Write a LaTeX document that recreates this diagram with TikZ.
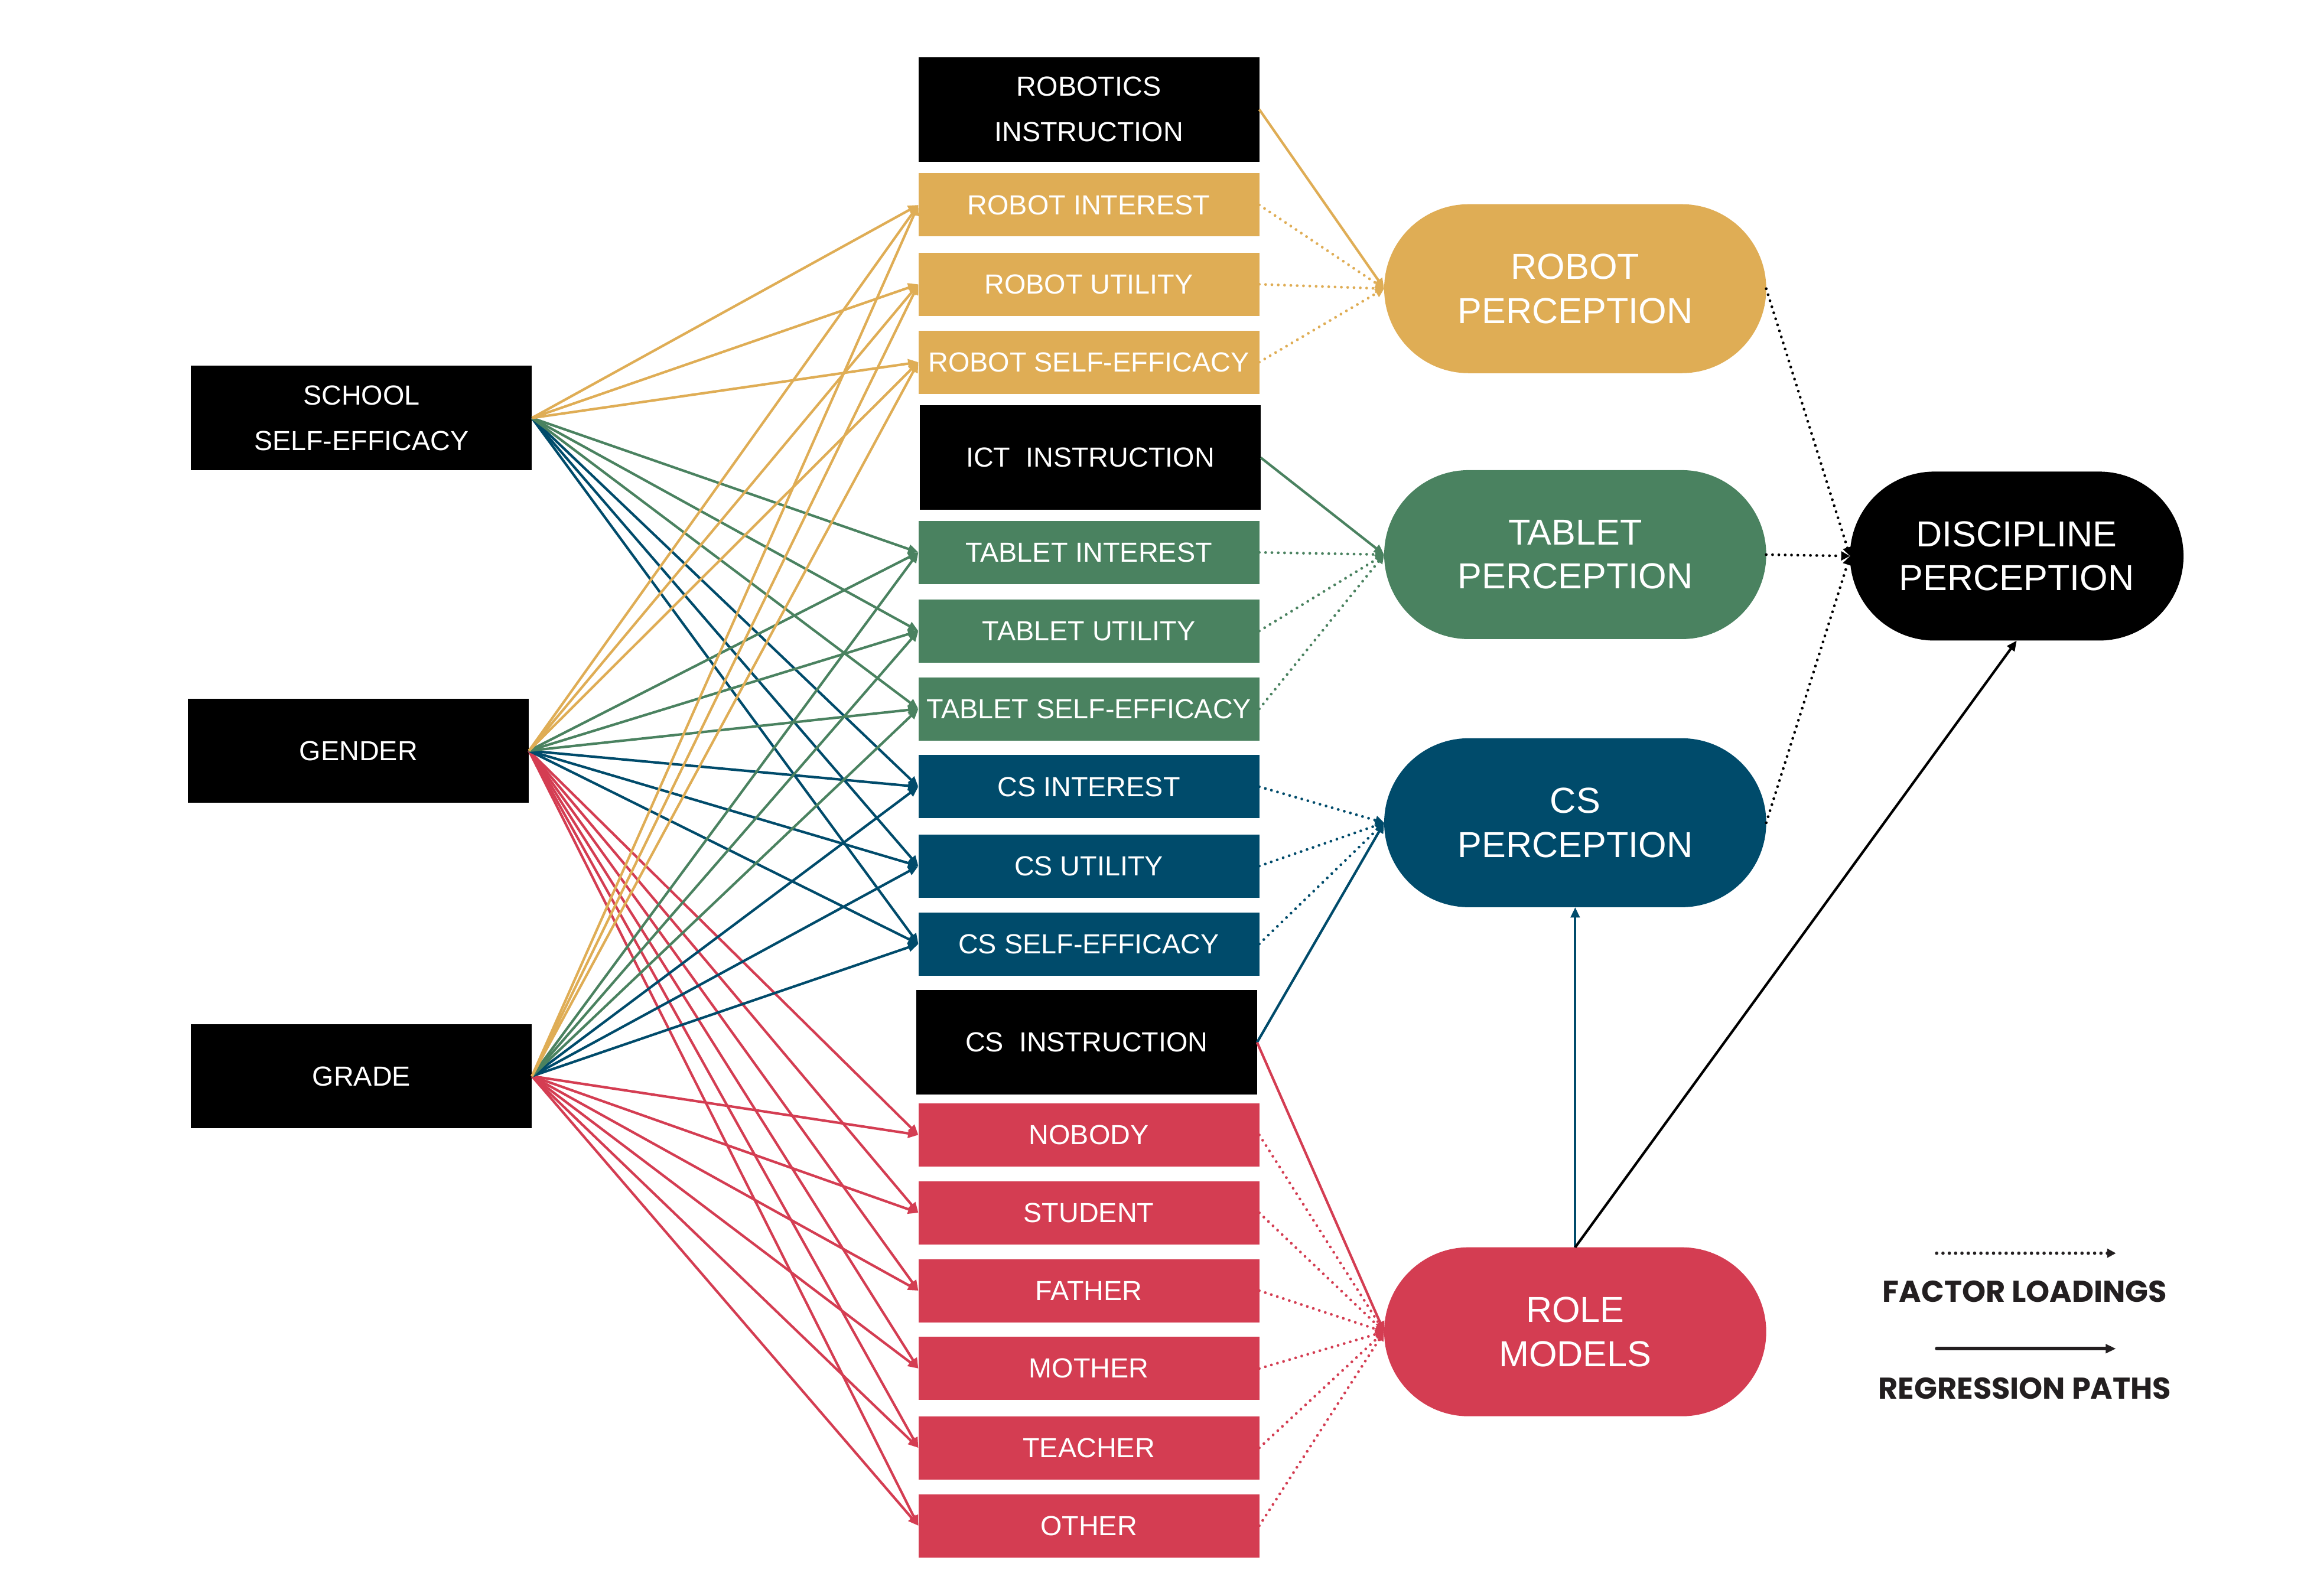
\documentclass[tikz,border=0pt]{standalone}
\usepackage{fontspec}
\setmainfont{Liberation Sans}
\newfontfamily\legendfont{Poppins}
\usetikzlibrary{arrows.meta,shapes.misc}
\definecolor{cyel}{RGB}{223,173,85}
\definecolor{cgrn}{RGB}{74,130,96}
\definecolor{cblu}{RGB}{0,75,107}
\definecolor{cred}{RGB}{212,61,82}
\definecolor{ink}{RGB}{35,31,32}
\tikzset{
  box/.style={rectangle, inner sep=0pt, outer sep=0pt, minimum width=232pt, minimum height=43pt,
    text=white, font=\fontsize{18.8}{31}\selectfont, align=center},
  ind/.style={box, fill=#1},
  inst/.style={box, fill=black, minimum height=71pt},
  lat/.style={rounded rectangle, inner sep=0pt, outer sep=0pt, fill=#1, minimum width=260pt,
    minimum height=115pt, text=white, font=\fontsize{24.6}{30}\selectfont, align=center},
  reg/.style={draw=#1, line width=1.7pt, -{Triangle[length=7pt,width=6pt]}},
  load/.style={draw=#1, line width=1.9pt, line cap=round, dash pattern=on 0pt off 4.3pt,
    -{Triangle[length=6pt,width=6pt]}},
  legtext/.style={font=\legendfont\bfseries\fontsize{20.5}{24}\selectfont, text=ink, inner sep=0pt}
}
\begin{document}
\begin{tikzpicture}[x=1pt,y=-1pt]
\useasboundingbox[fill=white] (0,0) rectangle (1568,1086);

% sources
\node[inst] (sse) at (246,284.5) {SCHOOL\\SELF-EFFICACY};
\node[inst] (gen) at (244,511) {GENDER};
\node[inst] (gra) at (246,732.5) {GRADE};

% middle column
\node[inst] (rins) at (741,74.5) {ROBOTICS\\INSTRUCTION};
\node[ind=cyel] (ri) at (741,139.5) {ROBOT INTEREST};
\node[ind=cyel] (ru) at (741,193.5) {ROBOT UTILITY};
\node[ind=cyel] (rs) at (741,246.5) {ROBOT SELF-EFFICACY};
\node[inst] (tins) at (742,311.5) {ICT\ \ INSTRUCTION};
\node[ind=cgrn] (ti) at (741,376) {TABLET INTEREST};
\node[ind=cgrn] (tu) at (741,429.5) {TABLET UTILITY};
\node[ind=cgrn] (ts) at (741,482.5) {TABLET SELF-EFFICACY};
\node[ind=cblu] (ci) at (741,535.5) {CS INTEREST};
\node[ind=cblu] (cu) at (741,589.5) {CS UTILITY};
\node[ind=cblu] (cs) at (741,642.5) {CS SELF-EFFICACY};
\node[inst] (cins) at (739.5,709.5) {CS\ \ INSTRUCTION};
\node[ind=cred] (m1) at (741,772.5) {NOBODY};
\node[ind=cred] (m2) at (741,825.5) {STUDENT};
\node[ind=cred] (m3) at (741,878.5) {FATHER};
\node[ind=cred] (m4) at (741,931.5) {MOTHER};
\node[ind=cred] (m5) at (741,985.5) {TEACHER};
\node[ind=cred] (m6) at (741,1038.5) {OTHER};

% latent
\node[lat=cyel] (rp) at (1072,196.5) {ROBOT\\PERCEPTION};
\node[lat=cgrn] (tp) at (1072,377.5) {TABLET\\PERCEPTION};
\node[lat=cblu] (cp) at (1072,560) {CS\\PERCEPTION};
\node[lat=cred] (rm) at (1072,906.5) {ROLE\\MODELS};
\node[lat=black, minimum width=227pt] (dp) at (1372.5,378.5) {DISCIPLINE\\PERCEPTION};

% source paths
\foreach \s in {gen,gra} {
  \foreach \t in {m1,m2,m3,m4,m5,m6} { \draw[reg=cred] (\s.east) -- (\t.west); }
}
\foreach \s in {sse,gen,gra} {
  \foreach \t in {ci,cu,cs} { \draw[reg=cblu] (\s.east) -- (\t.west); }
}
\foreach \s in {sse,gen,gra} {
  \foreach \t in {ti,tu,ts} { \draw[reg=cgrn] (\s.east) -- (\t.west); }
}
\foreach \s in {sse,gen,gra} {
  \foreach \t in {ri,ru,rs} { \draw[reg=cyel] (\s.east) -- (\t.west); }
}

% loadings
\foreach \t in {ri,ru,rs} { \draw[load=cyel] (\t.east) -- (rp.west); }
\foreach \t in {ti,tu,ts} { \draw[load=cgrn] (\t.east) -- (tp.west); }
\foreach \t in {ci,cu,cs} { \draw[load=cblu] (\t.east) -- (cp.west); }
\foreach \t in {m1,m2,m3,m4,m5,m6} { \draw[load=cred] (\t.east) -- (rm.west); }
\foreach \t in {rp,tp,cp} { \draw[load=black] (\t.east) -- (dp.west); }

% instruction paths
\draw[reg=cyel] (rins.east) -- (rp.west);
\draw[reg=cgrn] (tins.east) -- (tp.west);
\draw[reg=cblu] (cins.east) -- (cp.west);
\draw[reg=cred] (cins.east) -- (rm.west);

% role model paths
\draw[reg=cblu] (rm.north) -- (cp.south);
\draw[reg=black] (rm.north) -- (dp.south);

% legend
\coordinate (fa) at (1318,853);
\coordinate (fb) at (1440,853);
\draw[load=ink, line width=2.3pt] (fa) -- (fb);
\node[legtext] (fl) at (1378,879) {FACTOR LOADINGS};
\coordinate (ra) at (1318,918);
\coordinate (rb) at (1440,918);
\draw[reg=ink, line width=2.4pt, line cap=round] (ra) -- (rb);
\node[legtext] (rl) at (1378,945) {REGRESSION PATHS};
\end{tikzpicture}
\end{document}
